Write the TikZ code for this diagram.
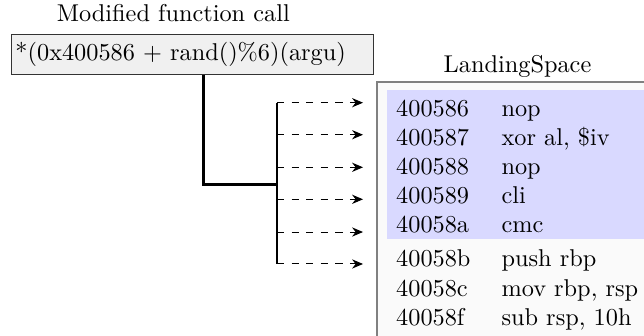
\documentclass[tikz,border=0pt]{standalone}
\usepackage{amsmath}
\usetikzlibrary{arrows.meta}

\tikzset{
  callbox/.style={draw=black!80, fill=black!6, minimum height=0.586cm,
    text width=5.13cm, inner xsep=1.5pt, align=left},
  trunk/.style={very thick},
  jump/.style={dashed, -{Stealth[length=4.5pt,width=3.8pt]}},
  cell/.style={anchor=west, inner sep=0pt, text height=1.5ex, text depth=0pt},
}

\begin{document}
\begin{tikzpicture}
\useasboundingbox (0,0) rectangle (9.312,4.844);
\clip (0,0) rectangle (9.312,4.844);

% landing space, the first bytes are padding
\draw[draw=black!50, thick, fill=black!2] (5.456,3.663) rectangle (10,-1);
\fill[blue!15] (5.592,3.543) rectangle (10,1.388);

\path
(2.506,4.530) node[anchor=base] (title) {Modified function call}
(2.789,4.053) node[callbox] (call) {*(0x400586 + rand()\%6)(argu)}
(7.483,3.796) node[anchor=base] (spacetitle) {LandingSpace};

\foreach \y/\addr/\ins [count=\i] in {
    3.278/400586/nop, 2.856/400587/{xor al, \$iv}, 2.435/400588/nop,
    2.013/400589/cli, 1.591/40058a/cmc,
    1.099/40058b/push rbp, 0.677/40058c/{mov rbp, rsp}, 0.255/40058f/{sub rsp, 10h}}
  \path (5.722,\y) node[cell] (addr\i) {\addr}
        (7.245,\y) node[cell] (ins\i) {\ins};

% one jump per possible offset
\foreach \y [count=\i] in {3.359,2.896,2.425,1.962,1.489,1.027} {
  \coordinate (b\i) at (4.005,\y);
  \coordinate (e\i) at (5.249,\y);
  \draw[jump] (b\i) -- (e\i);
}
\coordinate (elbow) at (2.940,2.170);
\coordinate (fork) at (4.005,2.170);
\draw[trunk] (call.south -| elbow) -- (elbow) -- (fork);
\draw[trunk] (b1) -- (b6);
\end{tikzpicture}
\end{document}
